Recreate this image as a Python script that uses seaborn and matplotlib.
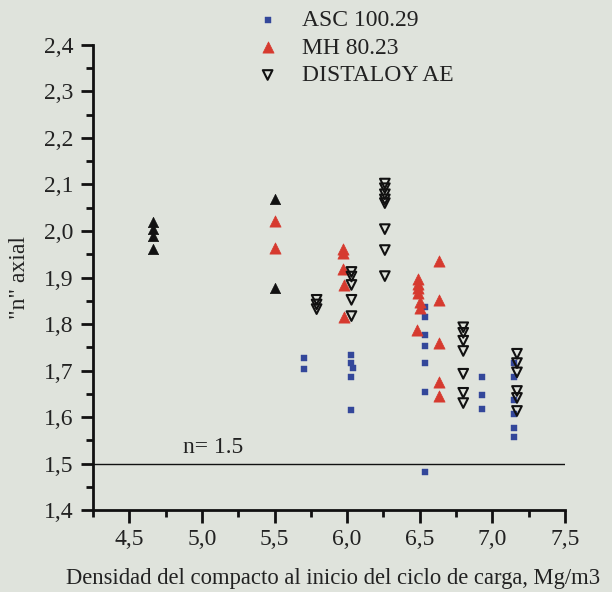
import numpy as np
import pandas as pd
import matplotlib
matplotlib.use("Agg")
import matplotlib.pyplot as plt
from matplotlib.ticker import MultipleLocator, FuncFormatter
import seaborn as sns

# Density at start of load cycle (Mg/m3) and axial "n" exponent per powder
asc_x = [5.70, 5.70,
         6.03, 6.03, 6.04, 6.03, 6.03,
         6.54, 6.54, 6.54, 6.54, 6.54, 6.54, 6.54,
         6.93, 6.93, 6.93,
         7.15, 7.15, 7.15, 7.15, 7.15, 7.15]
asc_y = [1.727, 1.703,
         1.733, 1.716, 1.705, 1.686, 1.615,
         1.837, 1.815, 1.776, 1.753, 1.716, 1.654, 1.482,
         1.686, 1.647, 1.617,
         1.716, 1.686, 1.637, 1.606, 1.576, 1.557]

mh_x = [5.50, 5.50,
        5.97, 5.97, 5.97, 5.98, 5.98,
        6.49, 6.49, 6.49, 6.49, 6.50, 6.50, 6.48,
        6.63, 6.63, 6.63, 6.63, 6.63]
mh_y = [2.022, 1.964,
        1.962, 1.952, 1.918, 1.884, 1.815,
        1.897, 1.887, 1.877, 1.866, 1.848, 1.834, 1.787,
        1.936, 1.852, 1.759, 1.675, 1.645]

dist_x = [5.79, 5.79, 5.79,
          6.03, 6.03, 6.03, 6.03, 6.03,
          6.26, 6.26, 6.26, 6.26, 6.26, 6.26, 6.26, 6.26,
          6.80, 6.80, 6.80, 6.80, 6.80, 6.80, 6.80,
          7.17, 7.17, 7.17, 7.17, 7.17, 7.17]
dist_y = [1.852, 1.842, 1.832,
          1.912, 1.902, 1.884, 1.852, 1.817,
          2.102, 2.092, 2.079, 2.068, 2.060, 2.004, 1.959, 1.903,
          1.793, 1.781, 1.764, 1.742, 1.693, 1.652, 1.630,
          1.736, 1.716, 1.696, 1.656, 1.641, 1.613]

other_x = [4.66, 4.66, 4.66, 4.66, 5.50, 5.50]
other_y = [2.020, 2.005, 1.990, 1.962, 2.068, 1.878]

labels = ["ASC 100.29", "MH 80.23", "DISTALOY AE"]
x_label = "Densidad del compacto al inicio del ciclo de carga, Mg/m3"
y_label = '"n" axial'
ref_value = 1.5
ref_text = "n= 1.5"

bg = "#dfe3dc"
sns.set_theme(style="ticks")
plt.rcParams["font.family"] = ["Liberation Serif", "DejaVu Serif"]
plt.rcParams["font.size"] = 17

fig = plt.figure(figsize=(6.12, 5.92), dpi=100, facecolor=bg)
ax = fig.add_axes([0.152, 0.1385, 0.771, 0.7855])
ax.set_facecolor(bg)

df_other = pd.DataFrame({"x": other_x, "y": other_y})
df_asc = pd.DataFrame({"x": asc_x, "y": asc_y})
df_mh = pd.DataFrame({"x": mh_x, "y": mh_y})
df_dist = pd.DataFrame({"x": dist_x, "y": dist_y})

sns.scatterplot(data=df_other, x="x", y="y", ax=ax, marker="^", s=55,
                color="#111111", edgecolor="#111111", linewidth=0.5, legend=False)
sns.scatterplot(data=df_asc, x="x", y="y", ax=ax, marker="s", s=22,
                color="#33479a", edgecolor="#33479a", linewidth=0.3, label=labels[0])
sns.scatterplot(data=df_mh, x="x", y="y", ax=ax, marker="^", s=65,
                color="#d63a2f", edgecolor="#d63a2f", linewidth=0.5, label=labels[1])
sns.scatterplot(data=df_dist, x="x", y="y", ax=ax, marker="v", s=48,
                facecolor="none", edgecolor="#111111", linewidth=1.5, label=labels[2])

ax.axhline(ref_value, color="#111111", lw=1.0, zorder=1)
ax.text(4.87, ref_value + 0.012, ref_text, fontsize=17, color="#222222",
        ha="left", va="bottom")

ax.set_xlim(4.25, 7.5)
ax.set_ylim(1.4, 2.4)
ax.xaxis.set_major_locator(MultipleLocator(0.5))
ax.xaxis.set_minor_locator(MultipleLocator(0.25))
ax.yaxis.set_major_locator(MultipleLocator(0.1))
ax.yaxis.set_minor_locator(MultipleLocator(0.05))
comma = FuncFormatter(lambda v, p: f"{v:.1f}".replace(".", ","))
ax.xaxis.set_major_formatter(comma)
ax.yaxis.set_major_formatter(comma)

for side in ["top", "right"]:
    ax.spines[side].set_visible(False)
for side in ["left", "bottom"]:
    ax.spines[side].set_linewidth(2.0)
    ax.spines[side].set_color("#111111")
ax.tick_params(which="major", direction="out", length=9, width=2.0,
               color="#111111", labelcolor="#222222", labelsize=17, pad=5)
ax.tick_params(which="minor", direction="out", length=5, width=2.0, color="#111111")

ax.set_xlabel(x_label, fontsize=16.3, color="#222222")
ax.xaxis.set_label_coords(0.508, -0.125)
ax.set_ylabel(y_label, fontsize=17, color="#222222", labelpad=10)

ax.legend(loc="upper left", bbox_to_anchor=(0.30, 1.097), frameon=False,
          fontsize=17, labelcolor="#222222", handletextpad=0.45,
          labelspacing=0.26, borderaxespad=0)

fig.savefig("out.png", dpi=100, facecolor=bg)
